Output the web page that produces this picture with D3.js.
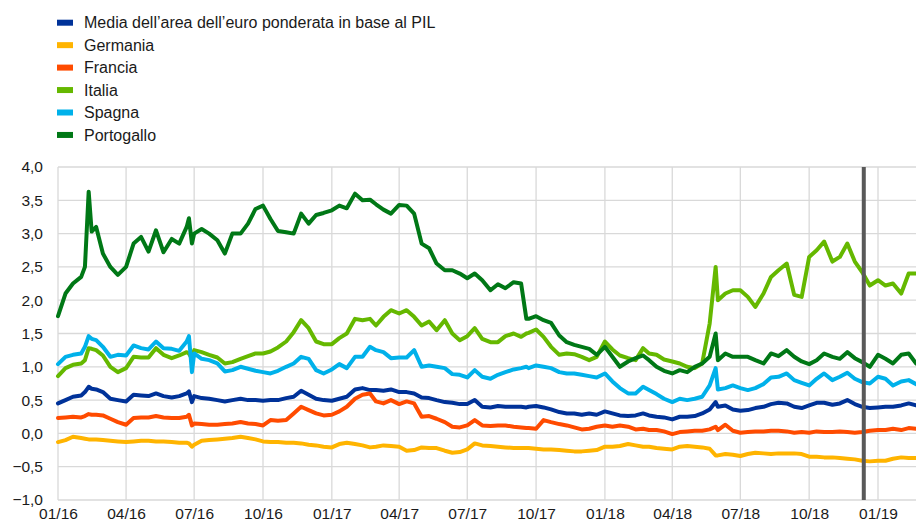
<!DOCTYPE html>
<html>
<head>
<meta charset="utf-8">
<script src="https://cdn.jsdelivr.net/npm/d3@7/dist/d3.min.js"></script>
<style>
  body { margin: 0; background: #fff; }
  svg { display: block; font-family: "Liberation Sans", Arial, sans-serif; }
</style>
</head>
<body>
<script>
// sampled dates (1st, 11th, 21st of each month plus a few extra days around jumps)
var dates = [
  "2016-01-01","2016-01-11","2016-01-21","2016-02-01","2016-02-06","2016-02-11","2016-02-15","2016-02-21",
  "2016-03-01","2016-03-11","2016-03-21","2016-04-01","2016-04-11","2016-04-21","2016-05-01","2016-05-11","2016-05-21",
  "2016-06-01","2016-06-11","2016-06-21","2016-06-24","2016-06-28","2016-07-01","2016-07-11","2016-07-21",
  "2016-08-01","2016-08-11","2016-08-21","2016-09-01","2016-09-11","2016-09-21","2016-10-01","2016-10-11","2016-10-21",
  "2016-11-01","2016-11-11","2016-11-21","2016-12-01","2016-12-11","2016-12-21",
  "2017-01-01","2017-01-11","2017-01-21","2017-02-01","2017-02-11","2017-02-21","2017-03-01","2017-03-11","2017-03-21",
  "2017-04-01","2017-04-11","2017-04-21","2017-05-01","2017-05-11","2017-05-21","2017-06-01","2017-06-11","2017-06-21",
  "2017-07-01","2017-07-11","2017-07-21","2017-08-01","2017-08-11","2017-08-21","2017-09-01","2017-09-11","2017-09-18","2017-09-21",
  "2017-10-01","2017-10-11","2017-10-21","2017-11-01","2017-11-11","2017-11-21","2017-12-01","2017-12-11","2017-12-21",
  "2018-01-01","2018-01-11","2018-01-21","2018-02-01","2018-02-11","2018-02-21","2018-03-01","2018-03-11","2018-03-21",
  "2018-04-01","2018-04-11","2018-04-21","2018-05-01","2018-05-11","2018-05-21","2018-05-29","2018-06-01","2018-06-11","2018-06-21",
  "2018-07-01","2018-07-11","2018-07-21","2018-08-01","2018-08-11","2018-08-21","2018-09-01","2018-09-11","2018-09-21",
  "2018-10-01","2018-10-11","2018-10-21","2018-11-01","2018-11-11","2018-11-21","2018-12-01","2018-12-11","2018-12-21",
  "2019-01-01","2019-01-11","2019-01-21","2019-02-01","2019-02-11","2019-02-21"
]

var media = [
  0.45,0.5,0.55, 0.57,0.62,0.7,0.67,0.66, 0.62,0.52,0.5, 0.48,0.58,0.57, 0.56,0.6,0.56, 0.54,0.56,0.6,0.63,0.47,
  0.56,0.53,0.52, 0.5,0.48,0.5, 0.52,0.5,0.5, 0.49,0.5,0.5, 0.53,0.55,0.64, 0.58,0.52,0.5,
  0.49,0.52,0.55, 0.66,0.68,0.65, 0.65,0.64,0.66, 0.62,0.62,0.6, 0.54,0.53,0.5, 0.47,0.46,0.44,
  0.44,0.5,0.4, 0.39,0.41,0.4, 0.4,0.4,0.39,0.4, 0.41,0.39,0.36, 0.32,0.3,0.3, 0.28,0.3,0.28,
  0.33,0.3,0.27, 0.26,0.27,0.3, 0.27,0.25,0.24, 0.21,0.25,0.25, 0.26,0.3,0.36,0.47, 0.4,0.42,0.36,
  0.34,0.35,0.38, 0.4,0.44,0.46, 0.45,0.4,0.38, 0.42,0.46,0.46, 0.43,0.45,0.5, 0.44,0.4,0.38,
  0.39,0.4,0.4, 0.42,0.45,0.42
]
var germania = [
  -0.13,-0.1,-0.05, -0.07,-0.08,-0.09,-0.09,-0.09, -0.1,-0.11,-0.12, -0.13,-0.12,-0.11, -0.11,-0.12,-0.12,
  -0.13,-0.14,-0.14,-0.15,-0.2, -0.17,-0.11,-0.1, -0.09,-0.08,-0.07, -0.05,-0.07,-0.09, -0.12,-0.13,-0.13,
  -0.14,-0.14,-0.15, -0.17,-0.18,-0.2,
  -0.21,-0.16,-0.14, -0.16,-0.18,-0.21, -0.2,-0.18,-0.19, -0.2,-0.26,-0.25, -0.21,-0.22,-0.22, -0.26,-0.29,-0.28,
  -0.24,-0.15,-0.18, -0.19,-0.2,-0.21, -0.22,-0.22,-0.22,-0.22, -0.23,-0.24,-0.24, -0.25,-0.26,-0.27, -0.27,-0.26,-0.25,
  -0.2,-0.2,-0.19, -0.16,-0.18,-0.2, -0.2,-0.22,-0.23, -0.24,-0.2,-0.19, -0.2,-0.21,-0.23,-0.33, -0.33,-0.31,-0.32,
  -0.34,-0.31,-0.29, -0.3,-0.31,-0.3, -0.3,-0.3,-0.31, -0.35,-0.35,-0.36, -0.36,-0.37,-0.38, -0.39,-0.41,-0.42,
  -0.41,-0.41,-0.38, -0.36,-0.37,-0.37
]
var francia = [
  0.23,0.24,0.25, 0.24,0.26,0.29,0.28,0.28, 0.27,0.22,0.17, 0.13,0.23,0.24, 0.24,0.26,0.24, 0.23,0.23,0.25,0.28,0.12,
  0.15,0.14,0.13, 0.13,0.14,0.15, 0.17,0.15,0.14, 0.12,0.2,0.19, 0.2,0.3,0.4, 0.35,0.3,0.27,
  0.28,0.33,0.4, 0.52,0.58,0.6, 0.48,0.45,0.5, 0.44,0.48,0.45, 0.25,0.26,0.22, 0.17,0.1,0.09,
  0.12,0.2,0.12, 0.11,0.12,0.12, 0.1,0.09,0.08,0.08, 0.07,0.2,0.17, 0.14,0.12,0.09, 0.06,0.07,0.1,
  0.12,0.1,0.12, 0.1,0.06,0.07, 0.05,0.05,0.03, -0.01,0.02,0.03, 0.04,0.04,0.06,0.1, 0.05,0.13,0.04,
  0.01,0.02,0.03, 0.03,0.04,0.04, 0.03,0.01,0.02, 0.01,0.03,0.02, 0.02,0.03,0.02, 0.01,0.02,0.04,
  0.05,0.05,0.07, 0.05,0.08,0.07
]
var italia = [
  0.86,0.98,1.03, 1.05,1.1,1.28,1.27,1.25, 1.17,1.0,0.92, 0.98,1.15,1.14, 1.14,1.28,1.18, 1.13,1.17,1.22,1.2,1.12,
  1.25,1.22,1.18, 1.14,1.05,1.07, 1.12,1.16,1.2, 1.2,1.23,1.29, 1.38,1.52,1.7, 1.58,1.38,1.34,
  1.34,1.43,1.5, 1.72,1.7,1.72, 1.62,1.75,1.85, 1.8,1.85,1.75, 1.62,1.68,1.55, 1.7,1.5,1.4,
  1.46,1.58,1.42, 1.37,1.37,1.46, 1.5,1.45,1.5,1.51, 1.56,1.45,1.3, 1.18,1.2,1.19, 1.15,1.1,1.15,
  1.38,1.26,1.17, 1.13,1.1,1.28, 1.2,1.18,1.11, 1.08,1.05,1.0, 0.98,1.05,1.65,2.5, 2.0,2.1,2.15,
  2.15,2.05,1.9, 2.1,2.35,2.45, 2.55,2.08,2.05, 2.65,2.75,2.88, 2.58,2.65,2.85, 2.58,2.42,2.22,
  2.3,2.22,2.25, 2.1,2.4,2.4
]
var spagna = [
  1.04,1.15,1.18, 1.2,1.3,1.46,1.42,1.4, 1.3,1.15,1.18, 1.17,1.32,1.28, 1.26,1.38,1.28, 1.27,1.24,1.38,1.46,0.92,
  1.2,1.12,1.1, 1.05,0.93,0.95, 1.0,0.97,0.94, 0.92,0.9,0.94, 1.0,1.05,1.15, 1.12,0.95,0.9,
  0.96,1.04,0.98, 1.15,1.15,1.3, 1.25,1.22,1.13, 1.14,1.14,1.25, 1.0,1.02,1.0, 0.98,0.89,0.88,
  0.84,0.95,0.85, 0.82,0.88,0.92, 0.96,0.98,1.0,0.98, 1.02,1.0,0.98, 0.92,0.9,0.9, 0.88,0.86,0.84,
  0.9,0.78,0.68, 0.6,0.6,0.7, 0.65,0.59,0.52, 0.47,0.52,0.5, 0.52,0.55,0.72,0.98, 0.66,0.68,0.72,
  0.68,0.65,0.68, 0.74,0.84,0.85, 0.9,0.8,0.76, 0.72,0.82,0.9, 0.8,0.85,0.91, 0.82,0.77,0.75,
  0.85,0.82,0.72, 0.78,0.8,0.74
]
var portogallo = [
  1.76,2.1,2.25, 2.35,2.5,3.63,3.03,3.1, 2.7,2.5,2.38, 2.5,2.85,2.95, 2.73,3.05,2.72, 2.92,2.85,3.1,3.23,2.85,
  3.0,3.07,3.0, 2.9,2.7,3.0, 3.0,3.15,3.37, 3.42,3.22,3.04, 3.02,3.0,3.3, 3.15,3.28,3.31,
  3.35,3.42,3.38, 3.6,3.5,3.51, 3.44,3.36,3.3, 3.43,3.42,3.3, 2.85,2.78,2.55, 2.45,2.45,2.4,
  2.33,2.4,2.3, 2.15,2.24,2.18, 2.27,2.25,1.72,1.72, 1.76,1.7,1.66, 1.47,1.37,1.33, 1.3,1.27,1.18,
  1.3,1.15,1.0, 1.08,1.13,1.17, 1.1,1.0,0.94, 0.9,0.95,0.92, 1.0,1.05,1.15,1.5, 1.1,1.2,1.15,
  1.15,1.15,1.1, 1.05,1.2,1.16, 1.25,1.15,1.08, 1.04,1.1,1.2, 1.15,1.12,1.22, 1.13,1.07,1.0,
  1.18,1.12,1.05, 1.18,1.2,1.05
]

var seriesNames = ["Media dell\u2019area dell\u2019euro ponderata in base al PIL", "Germania", "Francia", "Italia", "Spagna", "Portogallo"]
var seriesValues = [media, germania, francia, italia, spagna, portogallo]
var colors = ["#003299", "#ffb400", "#ff4b00", "#65b800", "#00b1ea", "#007816"]

var yTicks = [-1, -0.5, 0, 0.5, 1, 1.5, 2, 2.5, 3, 3.5, 4]
var xTicks = ["2016-01-01","2016-04-01","2016-07-01","2016-10-01","2017-01-01","2017-04-01","2017-07-01",
  "2017-10-01","2018-01-01","2018-04-01","2018-07-01","2018-10-01","2019-01-01"]
var markerDate = "2018-12-13"

var W = 916, H = 524
var parse = d3.timeParse("%Y-%m-%d")

var svg = d3.select("body").append("svg").attr("width", W).attr("height", H)

var x = d3.scaleTime()
    .domain([parse("2016-01-01"), parse("2019-01-01")])
    .range([58, 878])
var y = d3.scaleLinear().domain([-1, 4]).range([500, 167])

var fmtY = function (v) { return d3.format(".1f")(v).replace(".", ",") }

// grid
var grid = svg.append("g")
grid.selectAll(".hg").data(yTicks).enter().append("line")
    .attr("x1", 58).attr("x2", W)
    .attr("y1", function (d) { return y(d) }).attr("y2", function (d) { return y(d) })
    .attr("stroke", "#d9d9d9").attr("stroke-width", 1.3)
grid.selectAll(".vg").data(xTicks).enter().append("line")
    .attr("x1", function (d) { return x(parse(d)) }).attr("x2", function (d) { return x(parse(d)) })
    .attr("y1", y(4)).attr("y2", y(-1))
    .attr("stroke", "#d9d9d9").attr("stroke-width", 1.3)

// axes (labels only)
svg.append("g").attr("transform", "translate(58,0)")
    .call(d3.axisLeft(y).tickValues(yTicks).tickFormat(fmtY).tickSize(0).tickPadding(15))
svg.append("g").attr("transform", "translate(0," + y(-1) + ")")
    .call(d3.axisBottom(x).tickValues(xTicks.map(parse)).tickFormat(d3.timeFormat("%m/%y")).tickSize(0).tickPadding(8))
svg.selectAll(".domain").remove()
svg.selectAll(".tick text").attr("font-size", 15.5).attr("fill", "#1a1a1a")
    .attr("font-family", "'Liberation Sans', Arial, sans-serif")

// series
var line = d3.line()
    .x(function (d) { return x(d.date) })
    .y(function (d) { return y(d.value) })

var plot = svg.append("g")
seriesValues.forEach(function (vals, i) {
    var pts = vals.map(function (v, j) { return { date: parse(dates[j]), value: v } })
    plot.append("path")
        .attr("d", line(pts))
        .attr("fill", "none")
        .attr("stroke", colors[i])
        .attr("stroke-width", 4)
        .attr("stroke-linejoin", "round")
        .attr("stroke-linecap", "round")
})

// marker line
svg.append("line")
    .attr("x1", x(parse(markerDate))).attr("x2", x(parse(markerDate)))
    .attr("y1", y(4)).attr("y2", y(-1))
    .attr("stroke", "#595959").attr("stroke-width", 4)

// legend
var legend = svg.append("g")
seriesNames.forEach(function (name, i) {
    var cy = 22.7 + i * 22.45
    legend.append("rect")
        .attr("x", 57).attr("y", cy - 3).attr("width", 16).attr("height", 6)
        .attr("fill", colors[i])
    legend.append("text")
        .attr("x", 84).attr("y", cy + 5.6)
        .attr("font-size", 16).attr("fill", "#1a1a1a")
        .text(name)
})
</script>
</body>
</html>
